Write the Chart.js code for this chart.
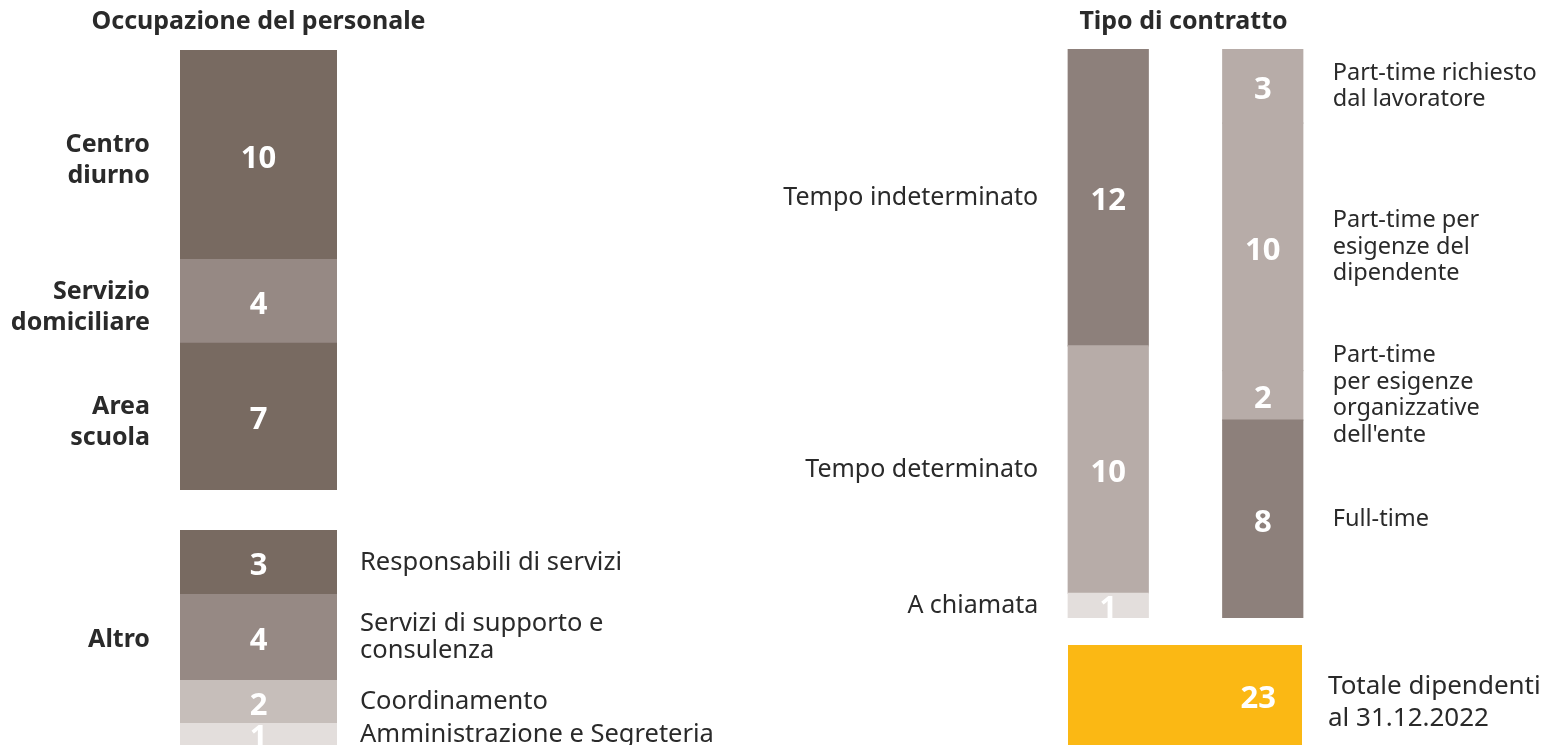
<!DOCTYPE html>
<html>
<head>
<meta charset="utf-8">
<script src="https://cdn.jsdelivr.net/npm/chart.js@4.4.1/dist/chart.umd.min.js"></script>
<style>
  html, body { margin: 0; padding: 0; background: #fff; }
  .wrap { position: relative; width: 1546px; height: 745px; overflow: hidden; }
  .wrap canvas { position: absolute; left: 0; top: 0; }
</style>
</head>
<body>
<div class="wrap">
  <canvas id="occupazione" width="1546" height="745"></canvas>
  <canvas id="altro" width="1546" height="745"></canvas>
  <canvas id="contratto" width="1546" height="745"></canvas>
  <canvas id="totale" width="1546" height="745"></canvas>
</div>
<script>
// dati (dall'alto verso il basso)
const occupazioneCategorie = [['Centro', 'diurno'], ['Servizio', 'domiciliare'], ['Area', 'scuola']];
const occupazioneValori = [10, 4, 7];
const altroGruppo = 'Altro';
const altroCategorie = [['Responsabili di servizi'], ['Servizi di supporto e', 'consulenza'], ['Coordinamento'], ['Amministrazione e Segreteria']];
const altroValori = [3, 4, 2, 1];
const tipoCategorie = [['Tempo indeterminato'], ['Tempo determinato'], ['A chiamata']];
const tipoValori = [12, 10, 1];
const orarioCategorie = [['Part-time richiesto', 'dal lavoratore'], ['Part-time per', 'esigenze del', 'dipendente'], ['Part-time', 'per esigenze', 'organizzative', "dell'ente"], ['Full-time']];
const orarioValori = [3, 10, 2, 8];
const totaleEtichetta = ['Totale dipendenti', 'al 31.12.2022'];
const totaleValore = 23;

// colori
const occupazioneColori = ['#786a61', '#968984', '#786a61'];
const altroColori = ['#786a61', '#968984', '#c6beba', '#e3dedc'];
const tipoColori = ['#8d807b', '#b7aca8', '#e3dedc'];
const orarioColori = ['#b7aca8', '#b7aca8', '#b7aca8', '#8d807b'];
const giallo = '#fbb814';

const FONT = '"Noto Sans", sans-serif';
const TESTO = '#2a2a2a';
Chart.defaults.font.family = FONT;

const sum = a => a.reduce((s, v) => s + v, 0);

// disegna valori dentro le barre, etichette ai lati, titolo
const etichette = {
  id: 'etichette',
  afterDatasetsDraw(chart, args, opts) {
    const ctx = chart.ctx;
    const area = chart.chartArea;
    const horiz = chart.options.indexAxis === 'y';
    ctx.save();
    ctx.textBaseline = 'middle';
    chart.data.datasets.forEach((ds, i) => {
      const meta = chart.getDatasetMeta(i);
      meta.data.forEach((el, j) => {
        const v = ds.data[j];
        if (v == null) return;
        const cx = horiz ? el.x - 26 : el.x;
        const cy = horiz ? el.y : (el.y + el.base) / 2;
        ctx.font = 'bold 31px ' + FONT;
        ctx.fillStyle = '#fff';
        ctx.textAlign = horiz ? 'right' : 'center';
        ctx.fillText(String(v), cx, cy + 4);

        const righe = ds.righe || [];
        const lh = opts.lineHeight;
        ctx.font = (ds.lato === 'sinistra' && opts.labelFontLeft) || opts.labelFont;
        ctx.fillStyle = TESTO;
        let lx;
        if (horiz) {
          ctx.textAlign = 'left';
          lx = el.x + opts.gap;
        } else if (ds.lato === 'sinistra') {
          ctx.textAlign = 'right';
          lx = el.x - el.width / 2 - opts.gap;
        } else {
          ctx.textAlign = 'left';
          lx = el.x + el.width / 2 + opts.gap;
        }
        const y0 = cy - (righe.length - 1) * lh / 2 + (opts.labelShift || 0);
        righe.forEach((r, k) => ctx.fillText(r, lx, y0 + k * lh));
      });
    });
    if (opts.gruppo) {
      ctx.font = 'bold 25px ' + FONT;
      ctx.fillStyle = TESTO;
      ctx.textAlign = 'right';
      ctx.fillText(opts.gruppo, area.left - 30, (area.top + area.bottom) / 2 + 2);
    }
    if (opts.titolo) {
      ctx.font = 'bold 25px ' + FONT;
      ctx.fillStyle = TESTO;
      ctx.textAlign = 'center';
      ctx.fillText(opts.titolo, (area.left + area.right) / 2 + (opts.titoloDx || 0), 22);
    }
    ctx.restore();
  }
};

function stackOptions(padding, max, extra) {
  return {
    responsive: false,
    animation: false,
    events: [],
    layout: { padding },
    plugins: { legend: { display: false }, tooltip: { enabled: false }, etichette: extra },
    scales: {
      x: { stacked: true, display: false, grid: { display: false } },
      y: { stacked: true, display: false, min: 0, max, grid: { display: false } }
    }
  };
}

// dataset dal basso verso l'alto
function colonna(nomi, valori, colori, pos, n, lato, bp) {
  return nomi.map((righe, i) => {
    const data = new Array(n).fill(null);
    data[pos] = valori[i];
    return {
      label: righe.join(' '), righe, lato, data,
      backgroundColor: colori[i], borderWidth: 0, inflateAmount: 0.6,
      barPercentage: bp, categoryPercentage: 1
    };
  }).reverse();
}

new Chart(document.getElementById('occupazione'), {
  type: 'bar',
  data: { labels: ['Occupazione'], datasets: colonna(occupazioneCategorie, occupazioneValori, occupazioneColori, 0, 1, 'sinistra', 1) },
  options: stackOptions({ left: 180, right: 1209, top: 50, bottom: 255 }, sum(occupazioneValori),
    { labelFont: 'bold 25px ' + FONT, lineHeight: 31, gap: 30, labelShift: 6, titolo: 'Occupazione del personale' }),
  plugins: [etichette]
});

new Chart(document.getElementById('altro'), {
  type: 'bar',
  data: { labels: ['Altro'], datasets: colonna(altroCategorie, altroValori, altroColori, 0, 1, 'destra', 1) },
  options: stackOptions({ left: 180, right: 1209, top: 530, bottom: 0 }, sum(altroValori),
    { labelFont: '25.5px ' + FONT, lineHeight: 27, gap: 23, gruppo: altroGruppo }),
  plugins: [etichette]
});

new Chart(document.getElementById('contratto'), {
  type: 'bar',
  data: {
    labels: ['Tipo', 'Orario'],
    datasets: colonna(tipoCategorie, tipoValori, tipoColori, 0, 2, 'sinistra', 0.518)
      .concat(colonna(orarioCategorie, orarioValori, orarioColori, 1, 2, 'destra', 0.518))
  },
  options: stackOptions({ left: 1031, right: 206, top: 49, bottom: 127 }, sum(tipoValori),
    { labelFont: '23.5px ' + FONT, labelFontLeft: '25px ' + FONT, lineHeight: 26.5, gap: 30, titolo: 'Tipo di contratto', titoloDx: -2 }),
  plugins: [etichette]
});

new Chart(document.getElementById('totale'), {
  type: 'bar',
  data: {
    labels: ['Totale'],
    datasets: [{ label: totaleEtichetta.join(' '), righe: totaleEtichetta, data: [totaleValore],
      backgroundColor: giallo, borderWidth: 0, barPercentage: 1, categoryPercentage: 1 }]
  },
  options: {
    indexAxis: 'y',
    responsive: false,
    animation: false,
    events: [],
    layout: { padding: { left: 1068, right: 244, top: 645, bottom: 0 } },
    plugins: { legend: { display: false }, tooltip: { enabled: false },
      etichette: { labelFont: '26px ' + FONT, lineHeight: 32, gap: 26, labelShift: 8 } },
    scales: {
      x: { display: false, min: 0, max: totaleValore },
      y: { display: false }
    }
  },
  plugins: [etichette]
});
</script>
</body>
</html>
